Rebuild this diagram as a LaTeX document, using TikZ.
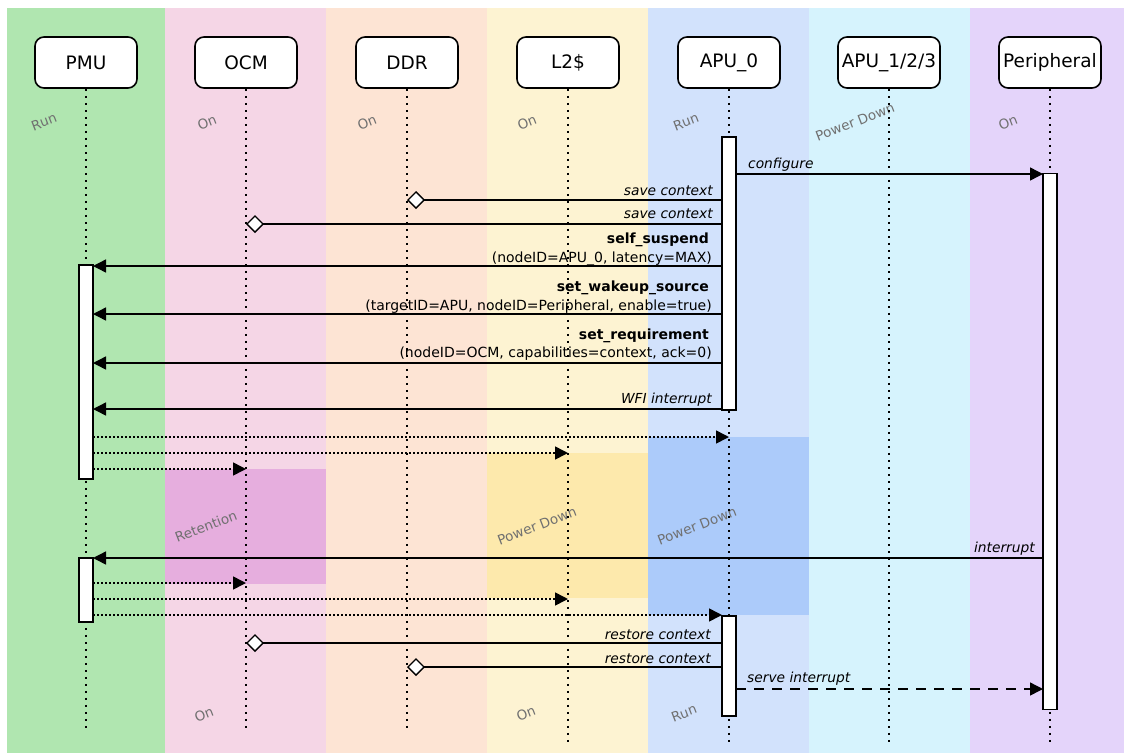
\documentclass[tikz,border=0pt]{standalone}
\usepackage{fontspec}
\setmainfont{DejaVu Sans}
\usetikzlibrary{arrows.meta}
\definecolor{cGreen}{RGB}{176,230,176}
\definecolor{cPink}{RGB}{245,214,230}
\definecolor{cPeach}{RGB}{253,228,212}
\definecolor{cYellow}{RGB}{253,243,210}
\definecolor{cBlue}{RGB}{210,226,252}
\definecolor{cCyan}{RGB}{214,243,253}
\definecolor{cPurple}{RGB}{228,212,250}
\definecolor{cRet}{RGB}{230,174,222}
\definecolor{cYellowD}{RGB}{253,233,172}
\definecolor{cBlueD}{RGB}{172,203,250}
\definecolor{cState}{RGB}{112,112,112}
\begin{document}
\begin{tikzpicture}[x=1pt,y=-1pt,
  hdr/.style={draw=black, line width=1.6pt, rounded corners=9pt, fill=white,
    minimum width=102pt, minimum height=51pt, inner sep=0pt,
    font=\fontsize{18.5}{22}\selectfont},
  life/.style={line width=1.6pt, dash pattern=on 2.5pt off 4.5pt},
  bar/.style={draw=black, line width=1.4pt, fill=white, minimum width=14pt,
    inner sep=0pt, outer sep=0pt},
  msg/.style={line width=1.4pt, -{Triangle[length=13pt,width=13pt]}},
  ret/.style={line width=1.4pt, -{Diamond[length=18pt,width=18pt,fill=white,line width=1.4pt]}},
  sig/.style={line width=1.6pt, dash pattern=on 1.5pt off 2.5pt, -{Triangle[length=13pt,width=13pt]}},
  dsh/.style={line width=1.4pt, dash pattern=on 10pt off 8pt, -{Triangle[length=13pt,width=13pt]}},
  lbl/.style={inner sep=0pt, font=\fontsize{13.8}{16}\selectfont\itshape},
  blbl/.style={inner sep=0pt, font=\fontsize{14}{16}\selectfont\bfseries},
  plbl/.style={inner sep=0pt, font=\fontsize{14}{16}\selectfont},
  state/.style={inner sep=0pt, text=cState, rotate=21, font=\fontsize{13.5}{15}\selectfont}
]
\useasboundingbox (0,0) rectangle (1124,753);
\fill[white] (0,0) rectangle (1124,753);
% columns
\fill[cGreen]  (7,8) rectangle (165,753);
\fill[cPink]   (165,8) rectangle (326,753);
\fill[cPeach]  (326,8) rectangle (487,753);
\fill[cYellow] (487,8) rectangle (648,753);
\fill[cBlue]   (648,8) rectangle (809,753);
\fill[cCyan]   (809,8) rectangle (970,753);
\fill[cPurple] (970,8) rectangle (1124,753);
% highlighted states
\fill[cRet]     (165,469) rectangle (326,584);
\fill[cYellowD] (487,453) rectangle (648,598);
\fill[cBlueD]   (648,437) rectangle (809,615);
% state labels
\node[state] (s1) at (44,122) {Run};
\node[state] (s2) at (207,122) {On};
\node[state] (s3) at (367,122) {On};
\node[state] (s4) at (527,122) {On};
\node[state] (s5) at (686,122) {Run};
\node[state] (s6) at (855,122) {Power Down};
\node[state] (s7) at (1008,122) {On};
\node[state] (s8) at (206,526) {Retention};
\node[state] (s9) at (537,526) {Power Down};
\node[state] (s10) at (697,526) {Power Down};
\node[state] (s11) at (204,714) {On};
\node[state] (s12) at (526,713) {On};
\node[state] (s13) at (684,713) {Run};
% headers
\node[hdr] (pmu) at (86,62.5) {PMU};
\node[hdr] (ocm) at (246,62.5) {OCM};
\node[hdr] (ddr) at (407,62.5) {DDR};
\node[hdr] (l2) at (568,62.5) {L2\$};
\node[hdr] (apu0) at (729,62.5) {APU\_0};
\node[hdr] (apuo) at (889,62.5) {APU\_1/2/3};
\node[hdr] (per) at (1050,62.5) {Peripheral};
% lifelines
\coordinate (pmuE) at (86,728);
\coordinate (ocmE) at (246,730);
\coordinate (ddrE) at (407,730);
\coordinate (l2E) at (568,742);
\coordinate (apu0E) at (729,742);
\coordinate (apuoE) at (889,742);
\coordinate (perE) at (1050,745);
\draw[life] (pmu.south) -- (pmuE);
\draw[life] (ocm.south) -- (ocmE);
\draw[life] (ddr.south) -- (ddrE);
\draw[life] (l2.south) -- (l2E);
\draw[life] (apu0.south) -- (apu0E);
\draw[life] (apuo.south) -- (apuoE);
\draw[life] (per.south) -- (perE);
% activation bars
\node[bar, minimum height=273pt] (aA) at (729,273.5) {};
\node[bar, minimum height=536pt] (pA) at (1050,441.5) {};
\node[bar, minimum height=214pt] (mA) at (86,372) {};
\node[bar, minimum height=64pt] (mB) at (86,590) {};
\node[bar, minimum height=100pt] (aB) at (729,666) {};
% messages
\draw[msg] (aA.east |- 0,174) -- (pA.west |- 0,174);
\node[lbl, anchor=base west] (l1) at (748,168) {configure};
\draw[ret] (aA.west |- 0,200) -- (ddr |- 0,200);
\node[lbl, anchor=base east] (l2a) at (713,195) {save context};
\draw[ret] (aA.west |- 0,224) -- (ocm |- 0,224);
\node[lbl, anchor=base east] (l3) at (713,218) {save context};
\draw[msg] (aA.west |- 0,266) -- (mA.east |- 0,266);
\node[blbl, anchor=base east] (l4a) at (709,243) {self\_suspend};
\node[plbl, anchor=base east] (l4b) at (712,262) {(nodeID=APU\_0, latency=MAX)};
\draw[msg] (aA.west |- 0,314) -- (mA.east |- 0,314);
\node[blbl, anchor=base east] (l5a) at (709,291) {set\_wakeup\_source};
\node[plbl, anchor=base east] (l5b) at (712,310) {(targetID=APU, nodeID=Peripheral, enable=true)};
\draw[msg] (aA.west |- 0,363) -- (mA.east |- 0,363);
\node[blbl, anchor=base east] (l6a) at (709,339) {set\_requirement};
\node[plbl, anchor=base east] (l6b) at (712,357) {(nodeID=OCM, capabilities=context, ack=0)};
\draw[msg] (aA.west |- 0,409) -- (mA.east |- 0,409);
\node[lbl, anchor=base east] (l7) at (712,403) {WFI interrupt};
\draw[sig] (mA.east |- 0,437) -- (apu0 |- 0,437);
\draw[sig] (mA.east |- 0,453) -- (l2 |- 0,453);
\draw[sig] (mA.east |- 0,469) -- (ocm |- 0,469);
\draw[msg] (pA.west |- 0,558) -- (mB.east |- 0,558);
\node[lbl, anchor=base east] (l8) at (1035,552) {interrupt};
\draw[sig] (mB.east |- 0,583) -- (ocm |- 0,583);
\draw[sig] (mB.east |- 0,599) -- (l2 |- 0,599);
\draw[sig] (mB.east |- 0,615) -- (aB.west |- 0,615);
\draw[ret] (aB.west |- 0,643) -- (ocm |- 0,643);
\node[lbl, anchor=base east] (l9) at (711,639) {restore context};
\draw[ret] (aB.west |- 0,667) -- (ddr |- 0,667);
\node[lbl, anchor=base east] (l10) at (711,663) {restore context};
\draw[dsh] (aB.east |- 0,689) -- (pA.west |- 0,689);
\node[lbl, anchor=base west] (l11) at (747,682) {serve interrupt};
\end{tikzpicture}
\end{document}
